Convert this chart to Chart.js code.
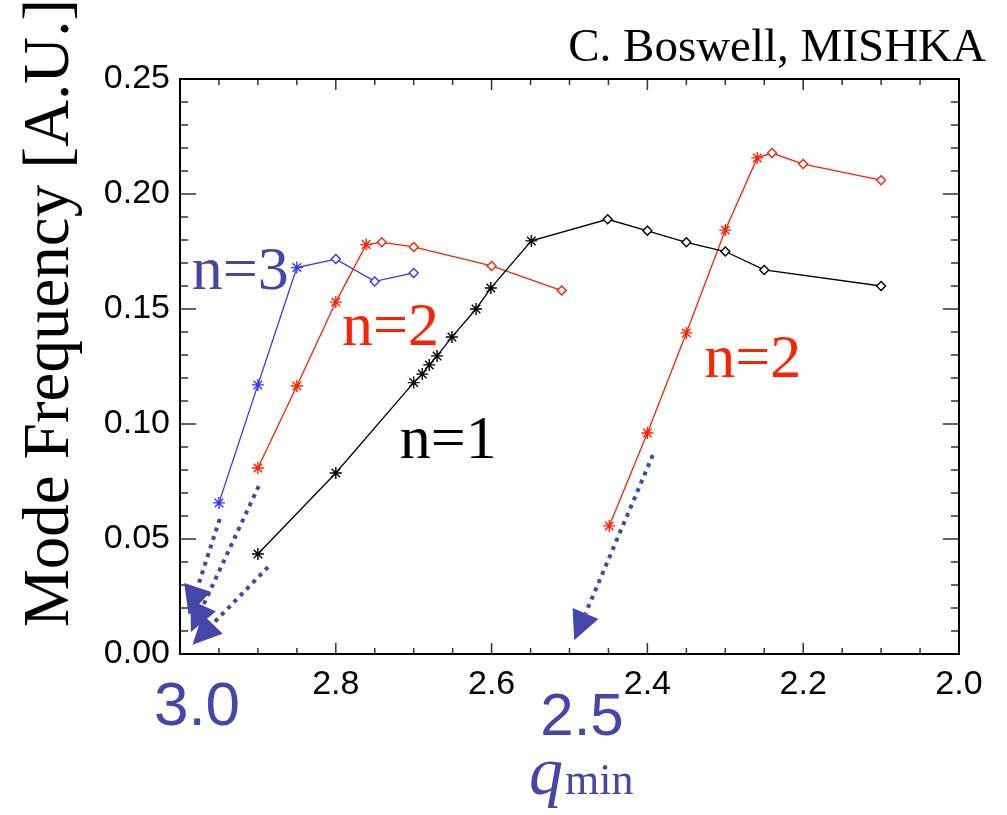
<!DOCTYPE html>
<html><head><meta charset="utf-8">
<script src="https://cdn.jsdelivr.net/npm/chart.js@4/dist/chart.umd.min.js"></script>
<style>html,body{margin:0;padding:0;background:#fff}canvas{display:block}</style>
</head><body>
<canvas id="c" width="1007" height="815"></canvas>
<script>
// ---- data (q_min, mode frequency) ----
const qN1 = [2.90, 2.80, 2.70, 2.689, 2.680, 2.670, 2.651, 2.620, 2.601, 2.549, 2.451, 2.40, 2.35, 2.30, 2.25, 2.10];
const fN1 = [0.0435, 0.0787, 0.118, 0.1217, 0.1257, 0.1296, 0.1378, 0.150, 0.1591, 0.1796, 0.189, 0.184, 0.179, 0.175, 0.167, 0.160];
const qN2a = [2.90, 2.85, 2.80, 2.761, 2.741, 2.70, 2.60, 2.51];
const fN2a = [0.0809, 0.1165, 0.153, 0.178, 0.179, 0.177, 0.1687, 0.158];
const qN2b = [2.449, 2.40, 2.35, 2.30, 2.259, 2.240, 2.20, 2.10];
const fN2b = [0.0557, 0.0961, 0.1396, 0.1843, 0.2157, 0.2178, 0.213, 0.206];
const qN3 = [2.95, 2.90, 2.85, 2.80, 2.75, 2.70];
const fN3 = [0.0657, 0.117, 0.168, 0.1717, 0.162, 0.1657];
const seriesNames = ['n=1', 'n=2', 'n=2', 'n=3'];
// number of leading asterisk markers in each series (rest are diamonds)
const starCounts = [10, 4, 5, 3];

const xTickValues = [2.0, 2.2, 2.4, 2.6, 2.8, 3.0];
const xTickLabels = ['2.0', '2.2', '2.4', '2.6', '2.8', ''];
const yTickValues = [0.00, 0.05, 0.10, 0.15, 0.20, 0.25];
const yTickLabels = ['0.00', '0.05', '0.10', '0.15', '0.20', '0.25'];

// annotation arrows: start / tip in data coordinates [q, f]
const arrowStarts = [[2.949, 0.0587], [2.899, 0.073], [2.887, 0.0378], [2.393, 0.0865]];
const arrowTips   = [[2.989, 0.0170], [2.986, 0.0096], [2.984, 0.0040], [2.494, 0.0060]];
// series label anchors [q, f] (left, baseline)
const labelAnchors = [[2.718, 0.0852], [2.792, 0.1343], [2.327, 0.1204], [2.985, 0.1587]];

const RED = '#ff2200', BLUE = '#3535ff', BLACK = '#000000', ANN = '#4646aa';
const seriesColors = [BLACK, RED, RED, BLUE];
const labelColors = [BLACK, RED, RED, ANN];

function mkSet(qs, fs, color, nStar) {
  return {
    data: qs.map((q, i) => ({x: q, y: fs[i]})),
    borderColor: color,
    borderWidth: 1.3,
    tension: 0,
    pointStyle: qs.map((_, i) => i < nStar ? 'star' : 'rectRot'),
    pointRadius: qs.map((_, i) => i < nStar ? 6 : 4.5),
    pointBorderColor: color,
    pointBackgroundColor: '#ffffff',
    pointBorderWidth: 1.4,
    clip: false
  };
}

const overlay = {
  id: 'overlay',
  afterDraw(chart) {
    const {ctx, chartArea: a, scales: {x, y}} = chart;
    ctx.save();
    // inward tick marks on all four sides
    ctx.strokeStyle = '#333';
    ctx.lineWidth = 1.5;
    ctx.beginPath();
    for (let i = 0; i <= 25; i++) {
      const py = y.getPixelForValue(i * 0.01);
      const L = (i % 5 === 0) ? 16 : 8;
      ctx.moveTo(a.left, py); ctx.lineTo(a.left + L, py);
      ctx.moveTo(a.right, py); ctx.lineTo(a.right - L, py);
    }
    for (let i = 0; i <= 20; i++) {
      const px = x.getPixelForValue(2 + i * 0.05);
      const L = (i % 4 === 0) ? 11 : 6;
      ctx.moveTo(px, a.bottom); ctx.lineTo(px, a.bottom - L);
      ctx.moveTo(px, a.top); ctx.lineTo(px, a.top + L);
    }
    ctx.stroke();
    ctx.strokeStyle = '#000';
    ctx.lineWidth = 2;
    ctx.strokeRect(a.left, a.top, a.right - a.left, a.bottom - a.top);

    // series labels
    ctx.textAlign = 'left';
    ctx.textBaseline = 'alphabetic';
    ctx.font = '62px "Liberation Serif", "Times New Roman", serif';
    seriesNames.forEach((s, i) => {
      ctx.fillStyle = labelColors[i];
      ctx.fillText(s, x.getPixelForValue(labelAnchors[i][0]), y.getPixelForValue(labelAnchors[i][1]));
    });

    // dotted arrows
    arrowStarts.forEach((s, i) => {
      const x0 = x.getPixelForValue(s[0]), y0 = y.getPixelForValue(s[1]);
      const x1 = x.getPixelForValue(arrowTips[i][0]), y1 = y.getPixelForValue(arrowTips[i][1]);
      const dx = x1 - x0, dy = y1 - y0, len = Math.hypot(dx, dy);
      const ux = dx / len, uy = dy / len;
      const hl = 29, hw = 14;
      const bx = x1 - ux * hl, by = y1 - uy * hl;
      ctx.strokeStyle = ANN;
      ctx.lineWidth = 4;
      ctx.setLineDash([4, 5]);
      ctx.beginPath();
      ctx.moveTo(x0, y0); ctx.lineTo(bx, by);
      ctx.stroke();
      ctx.setLineDash([]);
      ctx.fillStyle = ANN;
      ctx.beginPath();
      ctx.moveTo(x1, y1);
      ctx.lineTo(bx - uy * hw, by + ux * hw);
      ctx.lineTo(bx + uy * hw, by - ux * hw);
      ctx.closePath();
      ctx.fill();
    });

    // top-right credit
    ctx.fillStyle = '#000';
    ctx.textAlign = 'right';
    ctx.font = '47px "Liberation Serif", "Times New Roman", serif';
    ctx.fillText('C. Boswell, MISHKA', 986, 61);

    // y-axis title
    ctx.save();
    ctx.translate(68, 313);
    ctx.rotate(-Math.PI / 2);
    ctx.textAlign = 'center';
    ctx.font = '65px "Liberation Serif", "Times New Roman", serif';
    ctx.fillText('Mode Frequency [A.U.]', 0, 0);
    ctx.restore();

    // big blue q values and q_min title
    ctx.fillStyle = ANN;
    ctx.textAlign = 'center';
    ctx.font = '62px "Liberation Sans", Arial, sans-serif';
    ctx.fillText('3.0', 197, 725);
    ctx.font = '60px "Liberation Sans", Arial, sans-serif';
    ctx.fillText('2.5', 582, 735);
    ctx.textAlign = 'left';
    ctx.font = 'italic 68px "Liberation Serif", "Times New Roman", serif';
    ctx.fillText('q', 529, 794);
    ctx.font = '44px "Liberation Serif", "Times New Roman", serif';
    ctx.fillText('min', 565, 794);
    ctx.restore();
  }
};

new Chart(document.getElementById('c'), {
  type: 'line',
  data: {
    datasets: [
      mkSet(qN1, fN1, seriesColors[0], starCounts[0]),
      mkSet(qN2a, fN2a, seriesColors[1], starCounts[1]),
      mkSet(qN2b, fN2b, seriesColors[2], starCounts[2]),
      mkSet(qN3, fN3, seriesColors[3], starCounts[3])
    ]
  },
  options: {
    responsive: false,
    animation: false,
    events: [],
    layout: {padding: {top: 79, right: 48, left: 0, bottom: 0}},
    plugins: {legend: {display: false}, tooltip: {enabled: false}},
    scales: {
      x: {
        type: 'linear', reverse: true, min: 2.0, max: 3.0,
        grid: {display: false, drawTicks: false},
        border: {display: false},
        afterBuildTicks: s => { s.ticks = xTickValues.map(v => ({value: v})); },
        afterFit: s => { s.height = 161; },
        ticks: {
          autoSkip: false, maxRotation: 0, padding: 10, color: '#000',
          font: {family: '"Liberation Sans", Arial, sans-serif', size: 34},
          callback: (v) => { const k = xTickValues.findIndex(t => Math.abs(t - v) < 1e-9); return k >= 0 ? xTickLabels[k] : ''; }
        }
      },
      y: {
        type: 'linear', min: 0, max: 0.25,
        grid: {display: false, drawTicks: false},
        border: {display: false},
        afterBuildTicks: s => { s.ticks = yTickValues.map(v => ({value: v})); },
        afterFit: s => { s.width = 180; },
        ticks: {
          autoSkip: false, padding: 10, color: '#000',
          font: {family: '"Liberation Sans", Arial, sans-serif', size: 34},
          callback: (v) => { const k = yTickValues.findIndex(t => Math.abs(t - v) < 1e-9); return k >= 0 ? yTickLabels[k] : ''; }
        }
      }
    }
  },
  plugins: [overlay]
});
</script>
</body></html>
